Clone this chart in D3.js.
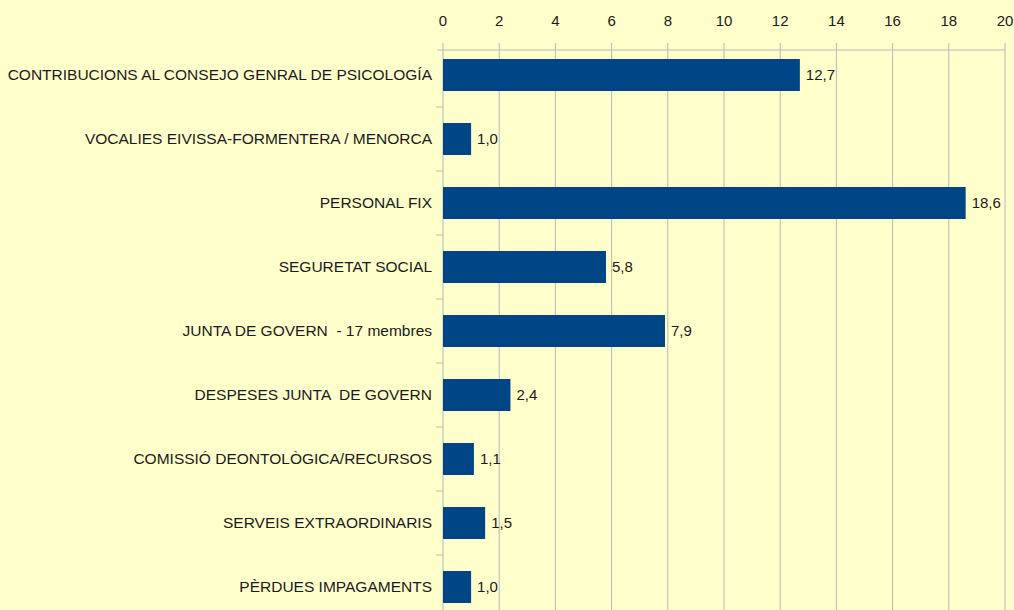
<!DOCTYPE html>
<html>
<head>
<meta charset="utf-8">
<script src="https://cdn.jsdelivr.net/npm/d3@7"></script>
<style>
body { margin: 0; background: #ffffcc; }
text { font-family: "Liberation Sans", Arial, sans-serif; }
</style>
</head>
<body>
<div id="chart"></div>
<script>
var categories = [
    "CONTRIBUCIONS AL CONSEJO GENRAL DE PSICOLOGÍA",
    "VOCALIES EIVISSA-FORMENTERA / MENORCA",
    "PERSONAL FIX",
    "SEGURETAT SOCIAL",
    "JUNTA DE GOVERN  - 17 membres",
    "DESPESES JUNTA  DE GOVERN",
    "COMISSIÓ DEONTOLÒGICA/RECURSOS",
    "SERVEIS EXTRAORDINARIS",
    "PÈRDUES IMPAGAMENTS"
];
var values = [12.7, 1.0, 18.6, 5.8, 7.9, 2.4, 1.1, 1.5, 1.0];
var tickValues = [0, 2, 4, 6, 8, 10, 12, 14, 16, 18, 20];

var width = 1014;
var height = 610;
var margin = {top: 50, left: 443, right: 10};

var svg = d3.select("#chart")
    .append("svg")
    .attr("width", width)
    .attr("height", height);

svg.append("rect")
    .attr("width", width)
    .attr("height", height)
    .attr("fill", "#ffffcc");

var x = d3.scaleLinear()
    .domain([0, 20])
    .range([margin.left, 1005]);

// bands of 64px starting just above the axis line
var y = d3.scaleBand()
    .domain(categories)
    .range([43, 43 + 64 * categories.length])
    .paddingInner(0.5)
    .paddingOuter(0.25);

// vertical grid lines
svg.selectAll(".grid")
    .data(tickValues)
    .enter()
    .append("line")
    .attr("class", "grid")
    .attr("x1", function(d) { return x(d); })
    .attr("x2", function(d) { return x(d); })
    .attr("y1", 43)
    .attr("y2", height)
    .attr("stroke", "#b8b8b8")
    .attr("stroke-width", 1);

// top axis line
svg.append("line")
    .attr("x1", 437)
    .attr("x2", x(20))
    .attr("y1", margin.top)
    .attr("y2", margin.top)
    .attr("stroke", "#b8b8b8");

// category separator ticks on the y axis
var seps = d3.range(1, categories.length).map(function(i) { return 43 + 64 * i; });
svg.selectAll(".sep")
    .data(seps)
    .enter()
    .append("line")
    .attr("x1", 436)
    .attr("x2", margin.left)
    .attr("y1", function(d) { return d; })
    .attr("y2", function(d) { return d; })
    .attr("stroke", "#b8b8b8");

// tick labels
svg.selectAll(".tick-label")
    .data(tickValues)
    .enter()
    .append("text")
    .attr("x", function(d) { return x(d); })
    .attr("y", 26)
    .attr("text-anchor", "middle")
    .attr("font-size", 15)
    .attr("fill", "#1a1a1a")
    .text(function(d) { return d; });

// bars
svg.selectAll(".bar")
    .data(values)
    .enter()
    .append("rect")
    .attr("class", "bar")
    .attr("x", x(0))
    .attr("y", function(d, i) { return y(categories[i]); })
    .attr("width", function(d) { return x(d) - x(0); })
    .attr("height", y.bandwidth())
    .attr("fill", "#004586");

// value labels
svg.selectAll(".val")
    .data(values)
    .enter()
    .append("text")
    .attr("x", function(d) { return x(d) + 6; })
    .attr("y", function(d, i) { return y(categories[i]) + y.bandwidth() / 2; })
    .attr("dy", "0.35em")
    .attr("font-size", 15)
    .attr("fill", "#1a1a1a")
    .text(function(d) { return d.toFixed(1).replace(".", ","); });

// category labels
svg.selectAll(".cat")
    .data(categories)
    .enter()
    .append("text")
    .attr("x", 432)
    .attr("y", function(d) { return y(d) + y.bandwidth() / 2; })
    .attr("dy", "0.35em")
    .attr("text-anchor", "end")
    .attr("font-size", 15.5)
    .attr("fill", "#1a1a1a")
    .style("white-space", "pre")
    .text(function(d) { return d; });
</script>
</body>
</html>
